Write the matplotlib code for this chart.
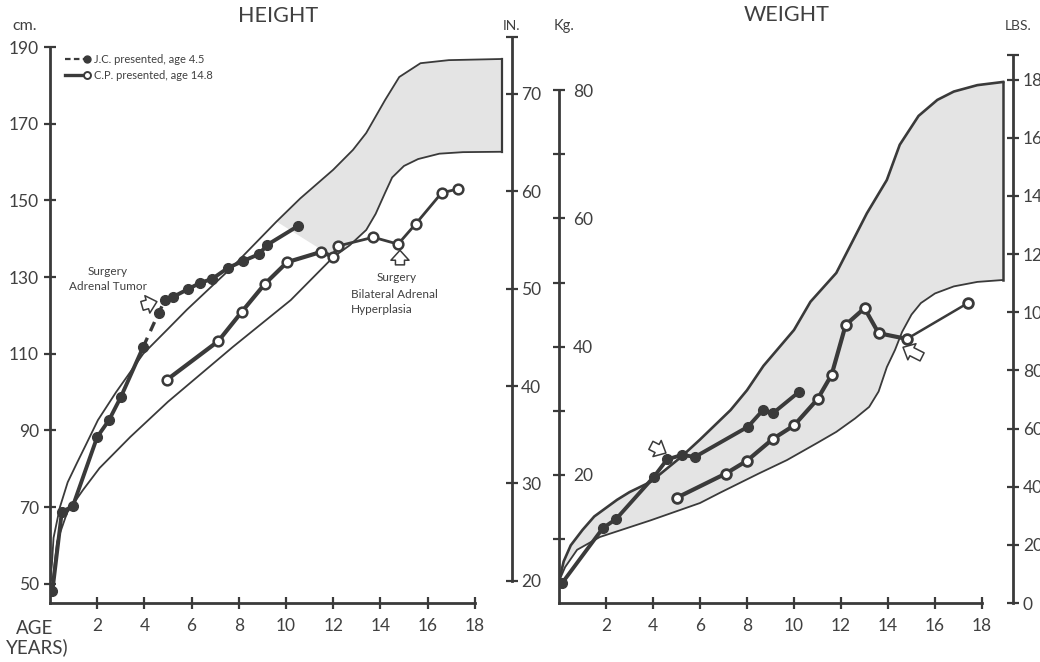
import numpy as np
import matplotlib
matplotlib.use('Agg')
import matplotlib.pyplot as plt
from matplotlib.legend_handler import HandlerLine2D
from matplotlib.lines import Line2D

plt.rcParams['font.family'] = ['Lato', 'DejaVu Sans']

W, H = 1040, 662
INK = '#3a3a3a'
TXT = '#404040'
BAND = '#e4e4e4'

# ---- HEIGHT chart (age in years, cm) ----
# normal range, upper and lower curves
h_up_age = [0, 0.08, 0.15, 0.42, 0.75, 1.14, 1.5, 2.03, 2.8, 3.95, 5.0, 5.8, 7.75, 9.6,
            10.6, 12.0, 12.84, 13.4, 14.2, 14.8, 15.7, 16.9, 19.15]
h_up_cm = [50.5, 55, 62, 70, 76.5, 81.5, 86, 92.7, 100, 110, 116.5, 121.5, 132.8, 144.5,
           150.5, 158, 163.2, 167.6, 176.2, 182.2, 185.8, 186.6, 186.9]
h_lo_age = [0, 0.13, 0.3, 0.72, 1.4, 2.1, 3.4, 5.0, 7.75, 10.2, 12.0, 12.7, 13.4, 13.8,
            14.2, 14.5, 15.0, 15.6, 16.5, 17.5, 19.15]
h_lo_cm = [50.5, 52, 61, 68.5, 74.5, 80.2, 88.3, 97.5, 111.8, 124, 135.2, 138.3, 142.3, 146.5,
           152, 156, 159, 160.8, 162.2, 162.6, 162.7]
# shading starts later on the lower curve than on the upper one
h_shade_from_up = 9.6
h_shade_from_lo = 12.0

# J.C. (presented age 4.5)
jc_h_age = [0.1, 0.5, 0.97, 2.0, 2.5, 3.0, 3.95, 4.6, 4.87, 5.2, 5.86, 6.36, 6.86, 7.54,
            8.18, 8.86, 9.2, 10.5]
jc_h_cm = [48, 68.7, 70.3, 88.3, 92.7, 98.7, 111.8, 120.6, 124, 124.8, 126.9, 128.5, 129.5,
           132.4, 134.2, 136, 138.4, 143.3]
# C.P. (presented age 14.8)
cp_h_age = [4.95, 7.13, 8.12, 9.1, 10.05, 11.5, 12.0, 12.2, 13.7, 14.75, 15.5, 16.6, 17.3]
cp_h_cm = [103.2, 113.3, 120.9, 128.2, 133.9, 136.6, 135.3, 138.1, 140.4, 138.6, 143.9, 152, 153]

# ---- WEIGHT chart (age in years, kg) ----
w_up_age = [0, 0.2, 0.5, 1.0, 1.5, 2.47, 3.0, 3.9, 5.2, 6.0, 7.3, 8.0, 8.7, 10.0, 10.7,
            11.8, 12.5, 13.1, 13.95, 14.5, 15.3, 16.1, 16.8, 17.8, 18.9]
w_up_kg = [3.4, 6.5, 9.0, 11.4, 13.5, 16.1, 17.3, 18.9, 22.8, 25.5, 30.1, 33.2, 37.0, 42.6,
           47.0, 51.5, 56.5, 60.8, 66.0, 71.5, 76.0, 78.5, 79.8, 80.8, 81.3]
w_lo_age = [0, 0.26, 0.77, 1.74, 3.9, 6.0, 6.85, 8.5, 9.7, 11.0, 11.8, 12.6, 13.2, 13.6,
            13.95, 14.3, 14.6, 15.0, 15.4, 16.0, 16.8, 17.8, 18.9]
w_lo_kg = [3.4, 5.6, 8.3, 10.3, 12.9, 15.6, 17.2, 20.2, 22.3, 25.0, 26.7, 28.8, 30.6, 33.0,
           36.8, 39.5, 42.3, 45.0, 46.8, 48.3, 49.4, 50.1, 50.4]

jc_w_age = [0.13, 1.87, 2.43, 4.04, 4.6, 5.23, 5.79, 8.04, 8.68, 9.1, 10.2]
jc_w_kg = [3.1, 11.7, 13.1, 19.7, 22.4, 23.1, 22.8, 27.5, 30.1, 29.6, 32.9]
cp_w_age = [5.0, 7.1, 8.0, 9.1, 10.0, 11.0, 11.6, 12.2, 13.0, 13.6, 14.8, 17.4]
cp_w_kg = [16.4, 20.2, 22.2, 25.6, 27.7, 31.8, 35.6, 43.4, 46.0, 42.1, 41.2, 46.8]

age_ticks = [2, 4, 6, 8, 10, 12, 14, 16, 18]
cm_ticks = [50, 70, 90, 110, 130, 150, 170, 190]
in_ticks = [20, 30, 40, 50, 60, 70]
kg_ticks = [20, 40, 60, 80]
kg_minor = [10, 30, 50, 70]
lb_ticks = [0, 20, 40, 60, 80, 100, 120, 140, 160, 180]


def fig_text(x, y, s, **kw):
    kw.setdefault('color', TXT)
    fig.text(x / W, 1 - y / H, s, **kw)


def axis_style(axis_obj, size=12.5):
    axis_obj.tick_params(which='both', direction='inout', length=9, width=1.6,
                         colors=INK, labelcolor=TXT, labelsize=size)


def open_arrow(ax, tail, head):
    ax.annotate('', xy=head, xytext=tail,
                arrowprops=dict(arrowstyle='simple,head_length=0.55,head_width=1.0,tail_width=0.5',
                                fc='white', ec=INK, lw=1.1, shrinkA=0, shrinkB=0,
                                mutation_scale=13))


class EndMarker(HandlerLine2D):
    # marker at the right end of the legend line, as in the original
    def create_artists(self, *args, **kwargs):
        arts = super().create_artists(*args, **kwargs)
        for a in arts:
            a.set_markevery([2])
        return arts


fig = plt.figure(figsize=(W / 100, H / 100), dpi=100)

# ================= HEIGHT =================
axh = fig.add_axes([50 / W, 59 / H, 457.8 / W, 567.4 / H])
axh.set_xlim(0, 19.4)
axh.set_ylim(45, 193)
axh.patch.set_visible(False)
for s in ['top', 'right']:
    axh.spines[s].set_visible(False)
for s in ['left', 'bottom']:
    axh.spines[s].set_linewidth(2)
    axh.spines[s].set_color(INK)
axh.spines['left'].set_bounds(45, 190)
axh.spines['bottom'].set_bounds(0, 18)
axh.set_xticks(age_ticks)
axh.set_yticks(cm_ticks)
axis_style(axh)
axh.tick_params(axis='x', pad=6)
axh.tick_params(axis='y', pad=3.5)

# shaded part of the normal range
ua = np.array(h_up_age); uc = np.array(h_up_cm)
la = np.array(h_lo_age); lc = np.array(h_lo_cm)
mu = ua >= h_shade_from_up
ml = la >= h_shade_from_lo
axh.fill(np.concatenate([ua[mu], la[ml][::-1]]), np.concatenate([uc[mu], lc[ml][::-1]]),
         color=BAND, lw=0, zorder=1)
axh.plot(h_up_age, h_up_cm, color=INK, lw=1.3, zorder=2)
axh.plot(h_lo_age, h_lo_cm, color=INK, lw=1.3, zorder=2)
axh.plot([h_lo_age[-1], h_up_age[-1]], [h_lo_cm[-1], h_up_cm[-1]], color=INK, lw=1.6, zorder=2)

# J.C.: dashed around presentation, solid otherwise
jc_a = np.array(jc_h_age); jc_c = np.array(jc_h_cm)
axh.plot(jc_a[:7], jc_c[:7], color=INK, lw=2.8, zorder=3)
axh.plot(jc_a[6:9], jc_c[6:9], color=INK, lw=2.4, ls=(0, (3, 2.2)), zorder=3)
axh.plot(jc_a[8:], jc_c[8:], color=INK, lw=2.8, zorder=3)
axh.plot(jc_a, jc_c, ls='none', marker='o', ms=7, color=INK, zorder=4)

# C.P.
axh.plot(cp_h_age[:8], cp_h_cm[:8], color=INK, lw=3, zorder=3)
axh.plot(cp_h_age[7:], cp_h_cm[7:], color=INK, lw=2, zorder=3)
axh.plot(cp_h_age, cp_h_cm, ls='none', marker='o', ms=7, mfc='white', mec=INK, mew=1.8, zorder=4)

open_arrow(axh, (3.9, 122.5), (4.53, 123.6))
open_arrow(axh, (14.83, 133.2), (14.83, 137.0))
axh.text(2.46, 129.6, 'Surgery\nAdrenal Tumor', ha='center', va='center', fontsize=8.5,
         color=TXT, linespacing=1.45)
axh.text(14.7, 130.0, 'Surgery', ha='center', va='center', fontsize=8.5, color=TXT)
axh.text(12.75, 123.4, 'Bilateral Adrenal\nHyperplasia', ha='left', va='center', fontsize=8.5,
         color=TXT, linespacing=1.45)

# legend
jc_handle = Line2D([], [], color=INK, lw=1.6, ls=(0, (2.5, 1.5)), marker='o', ms=5)
cp_handle = Line2D([], [], color=INK, lw=2.4, marker='o', ms=5, mfc='white', mew=1.4)
axh.legend([jc_handle, cp_handle], ['J.C. presented, age 4.5', 'C.P. presented, age 14.8'],
           loc='upper left', bbox_to_anchor=(65 / W, 1 - 54 / H), bbox_transform=fig.transFigure,
           frameon=False, fontsize=8, handlelength=2.0, handletextpad=0.6, labelspacing=0.45,
           borderpad=0, borderaxespad=0, numpoints=1,
           handler_map={Line2D: EndMarker()}, labelcolor=TXT)

# inches axis
sec_in = axh.secondary_yaxis((512 - 50) / 457.8, functions=(lambda c: c / 2.54, lambda i: i * 2.54))
sec_in.spines['right'].set_bounds(20, 75.8)
sec_in.spines['right'].set_linewidth(2)
sec_in.spines['right'].set_color(INK)
sec_in.set_yticks(in_ticks)
sec_in.set_yticks([75.8], minor=True)
axis_style(sec_in)
sec_in.tick_params(axis='y', which='both', pad=2)

# ================= WEIGHT =================
axw = fig.add_axes([559 / W, 59 / H, 451.2 / W, 564 / H])
axw.set_xlim(0, 19.2)
axw.set_ylim(0, 88)
axw.patch.set_visible(False)
for s in ['top', 'left']:
    axw.spines[s].set_visible(False)
for s in ['right', 'bottom']:
    axw.spines[s].set_linewidth(2)
    axw.spines[s].set_color(INK)
axw.spines['right'].set_position(('axes', 0))
axw.spines['right'].set_bounds(0, 80)
axw.spines['bottom'].set_bounds(0, 18)
axw.yaxis.tick_right()
axw.set_xticks(age_ticks)
axw.set_yticks(kg_ticks)
axw.set_yticks(kg_minor, minor=True)
axis_style(axw)
axw.tick_params(axis='x', pad=6)
axw.tick_params(axis='y', which='both', pad=5.5)

axw.fill(w_up_age + w_lo_age[::-1], w_up_kg + w_lo_kg[::-1], color=BAND, lw=0, zorder=1)
axw.plot(w_up_age, w_up_kg, color=INK, lw=1.9, zorder=2)
axw.plot(w_lo_age, w_lo_kg, color=INK, lw=1.3, zorder=2)
axw.plot([w_lo_age[-1], w_up_age[-1]], [w_lo_kg[-1], w_up_kg[-1]], color=INK, lw=1.8, zorder=2)

axw.plot(jc_w_age, jc_w_kg, color=INK, lw=2.8, marker='o', ms=7, zorder=3)
axw.plot(cp_w_age[:11], cp_w_kg[:11], color=INK, lw=3, zorder=3)
axw.plot(cp_w_age[10:], cp_w_kg[10:], color=INK, lw=1.8, zorder=3)
axw.plot(cp_w_age, cp_w_kg, ls='none', marker='o', ms=7, mfc='white', mec=INK, mew=2.0, zorder=4)

open_arrow(axw, (3.91, 24.6), (4.55, 23.4))
open_arrow(axw, (15.45, 38.4), (14.64, 39.9))

# pounds axis (labels run off the right edge, as in the original)
sec_lb = axw.secondary_yaxis((1013 - 559) / 451.2,
                             functions=(lambda k: k * 2.2046, lambda lb: lb / 2.2046))
sec_lb.spines['right'].set_bounds(0, 188.5)
sec_lb.spines['right'].set_linewidth(2)
sec_lb.spines['right'].set_color(INK)
sec_lb.set_yticks(lb_ticks)
sec_lb.set_yticks([188.5], minor=True)
axis_style(sec_lb)
sec_lb.tick_params(axis='y', which='both', pad=2.5)

# titles and unit labels
fig_text(278, 16, 'HEIGHT', ha='center', va='center', fontsize=15.5)
fig_text(787, 15, 'WEIGHT', ha='center', va='center', fontsize=15.5)
fig_text(25, 26, 'cm.', ha='center', va='center', fontsize=11.5)
fig_text(511, 26, 'IN.', ha='center', va='center', fontsize=10)
fig_text(564, 26, 'Kg.', ha='center', va='center', fontsize=10.5)
fig_text(1018, 26, 'LBS.', ha='center', va='center', fontsize=10)
fig_text(35, 628, 'AGE', ha='center', va='center', fontsize=13.5)
fig_text(37, 647, 'YEARS)', ha='center', va='center', fontsize=13.5)

fig.savefig('out.png', dpi=100, facecolor='white')
